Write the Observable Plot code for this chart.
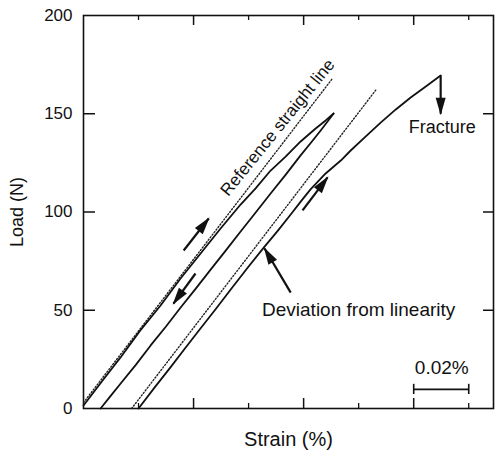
<!DOCTYPE html>
<html><head><meta charset="utf-8">
<script src="https://cdn.jsdelivr.net/npm/d3@7"></script>
<script src="https://cdn.jsdelivr.net/npm/@observablehq/plot@0.6"></script>
<style>body{margin:0;background:#fff}</style>
</head><body><div id="chart"></div>
<script>
// [strain (%), load (N)]
const loading1 = [[0,1.5],[0.0068,14],[0.01345,26],[0.0205,39.5],[0.028,52.4],[0.0352,66],[0.04255,78.9],[0.04982,91.6],[0.05709,103.8],[0.06255,112],[0.068,121.1],[0.07345,128.2],[0.07891,135.9],[0.08436,142.5],[0.088,146.6],[0.0909,150.1]];
const unloading1 = [[0.0909,150.1],[0.0862,141.5],[0.0825,135],[0.0789,128.8],[0.0735,119],[0.068,109.4],[0.0625,99.6],[0.0571,90.1],[0.0516,80.2],[0.0462,70.7],[0.0408,61],[0.0353,51.4],[0.0299,41.6],[0.0244,32.1],[0.019,22.2],[0.0135,12.7],[0.0098,6.3],[0.0062,0]];
const loading2 = [[0.02,0],[0.0258,10.6],[0.0316,20.9],[0.037,30.8],[0.0425,40.7],[0.048,50.5],[0.0535,60.6],[0.0595,71.4],[0.0655,81.9],[0.0705,90.3],[0.0753,98.7],[0.079,105.4],[0.0825,111.5],[0.088,119.6],[0.0935,126.2],[0.0971,131.3],[0.1025,138.4],[0.108,145.5],[0.1135,152.2],[0.1189,158.3],[0.1244,163.9],[0.1298,169.5]];
const reference1 = [[0,3],[0.0905,168]];
const reference2 = [[0.0175,0],[0.1062,162]];
// arrows: [x1, y1, x2, y2]
const arrows = [[0.0364,80.4,0.0455,96.7],[0.0407,68.7,0.0327,53.4],[0.0796,100.8,0.0887,117.6],[0.0753,59.0,0.0658,81.4],[0.1298,169.5,0.1298,150]];
const scaleBar = [0.12, 0.14];
const scaleBarY = 9.7;
const yTickValues = [0, 50, 100, 150, 200];
const yInnerTicks = [50, 100, 150];
const xMajorTicks = [0.04, 0.08, 0.12];
const xMinorTicks = [0.02, 0.06, 0.10, 0.14];
const refLabel = {x: 0.07055, y: 143, text: "Reference straight line"};
const fractureLabel = {x: 0.1182, y: 143, text: "Fracture"};
const deviationLabel = {x: 0.1, y: 50.4, text: "Deviation from linearity"};
const scaleLabel = {x: 0.1302, y: 20.9, text: "0.02%"};

function filledHead(color) {
  const m = d3.create("svg:marker")
    .attr("viewBox", "-17 -6 19 12")
    .attr("markerWidth", 19).attr("markerHeight", 12)
    .attr("markerUnits", "userSpaceOnUse")
    .attr("orient", "auto")
    .attr("overflow", "visible");
  m.append("path").attr("d", "M-16,-5L1.5,0L-16,5Z").attr("fill", color).attr("stroke", "none");
  return m.node();
}

function build(marker) {
  const W = 497, H = 452, mL = 83, mR = 4, mT = 15, mB = 44;
  const fw = W - mL - mR, fh = H - mT - mB;
  const lineOpts = {x: d => d[0], y: d => d[1], stroke: "#111", strokeWidth: 1.8};
  const dotOpts = {x: d => d[0], y: d => d[1], stroke: "#222", strokeWidth: 1.4, strokeDasharray: "1.2 2"};
  const txt = (d, o) => Plot.text([d], {x: "x", y: "y", text: "text", lineAnchor: "middle", fill: "#111", ...o});
  return Plot.plot({
    width: W, height: H,
    marginLeft: mL, marginRight: mR, marginTop: mT, marginBottom: mB,
    style: {fontFamily: "Liberation Sans, Arial, Helvetica, sans-serif", background: "#fff", color: "#111"},
    x: {domain: [0, 0.149], axis: null},
    y: {domain: [0, 200], axis: null},
    marks: [
      Plot.axisY({ticks: yTickValues, tickSize: 0, tickPadding: 11, fontSize: 17, label: null}),
      Plot.text(["Load (N)"], {frameAnchor: "left", dx: -66, rotate: -90, textAnchor: "middle", fontSize: 18}),
      Plot.text(["Strain (%)"], {frameAnchor: "bottom", dy: 31, textAnchor: "middle", lineAnchor: "middle", fontSize: 20}),
      Plot.frame({stroke: "#111", strokeWidth: 1.6}),
      Plot.tickX(xMajorTicks, {x: d => d, insetTop: fh - 10, strokeWidth: 1.5}),
      Plot.tickX(xMajorTicks, {x: d => d, insetBottom: fh - 10, strokeWidth: 1.5}),
      Plot.tickX(xMinorTicks, {x: d => d, insetTop: fh - 5, strokeWidth: 1.3}),
      Plot.tickX(xMinorTicks, {x: d => d, insetBottom: fh - 5, strokeWidth: 1.3}),
      Plot.tickY(yInnerTicks, {y: d => d, insetRight: fw - 12, strokeWidth: 1.5}),
      Plot.tickY(yInnerTicks, {y: d => d, insetLeft: fw - 10, strokeWidth: 1.5}),
      Plot.line(reference1, dotOpts),
      Plot.line(reference2, dotOpts),
      Plot.line(loading1, lineOpts),
      Plot.line(unloading1, lineOpts),
      Plot.line(loading2, lineOpts),
      Plot.link(arrows, {x1: d => d[0], y1: d => d[1], x2: d => d[2], y2: d => d[3], stroke: "#111", strokeWidth: 2.2, markerEnd: marker}),
      Plot.link([scaleBar], {x1: d => d[0], x2: d => d[1], y1: scaleBarY, y2: scaleBarY, stroke: "#111", strokeWidth: 1.8}),
      Plot.ruleX(scaleBar, {x: d => d, y1: 7.1, y2: 12.3, stroke: "#111", strokeWidth: 1.6}),
      txt(refLabel, {rotate: -51, textAnchor: "middle", fontSize: 17}),
      txt(fractureLabel, {textAnchor: "start", fontSize: 18}),
      txt(deviationLabel, {textAnchor: "middle", fontSize: 19}),
      txt(scaleLabel, {textAnchor: "middle", fontSize: 19})
    ]
  });
}

let chart;
try { chart = build(filledHead); } catch (e) { chart = build("arrow"); }
document.getElementById("chart").appendChild(chart);
</script>
</body></html>
